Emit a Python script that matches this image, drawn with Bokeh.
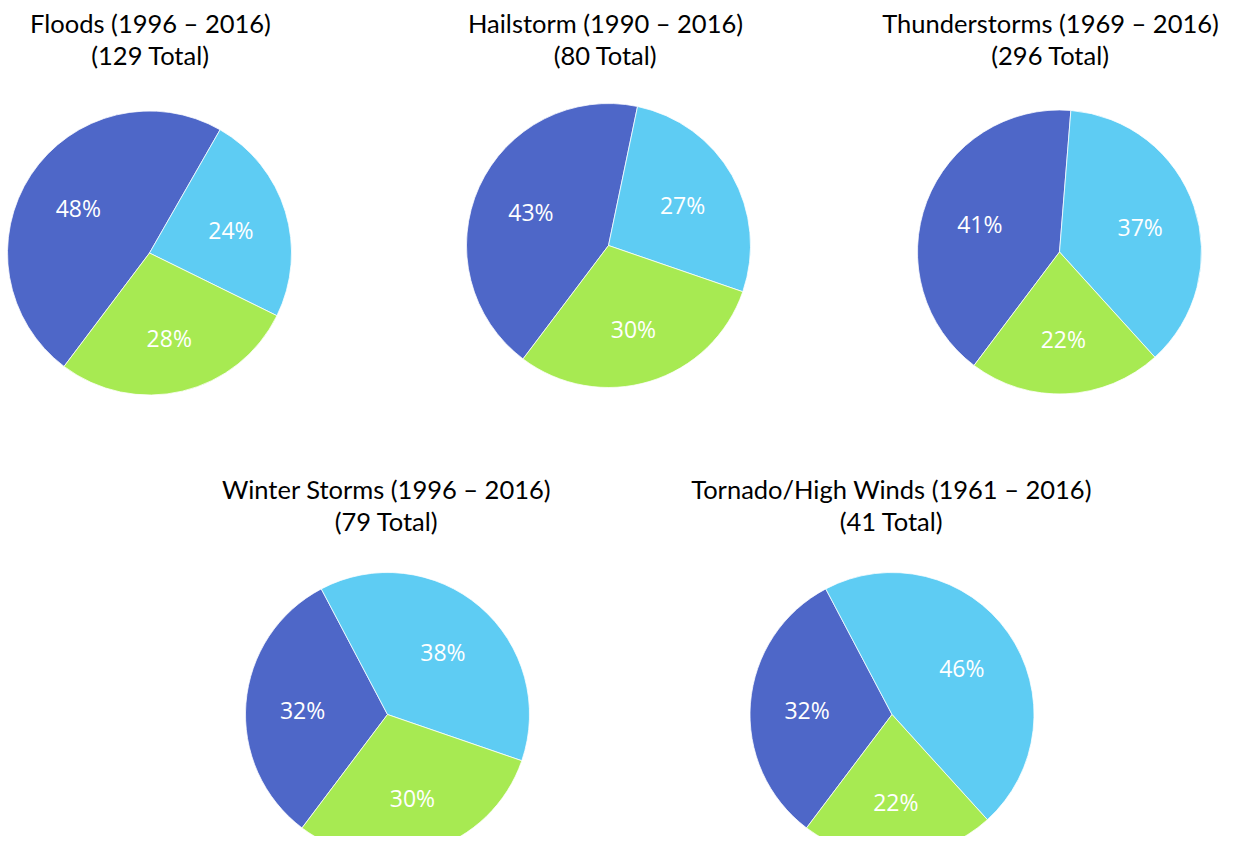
import math
from bokeh.plotting import figure
from bokeh.models import Range1d, ColumnDataSource
from bokeh.embed import file_html
from bokeh.resources import INLINE
from bokeh.core.properties import value

# ---- data ----
event_names = ["Floods", "Hailstorm", "Thunderstorms", "Winter Storms", "Tornado/High Winds"]
year_ranges = ["1996 – 2016", "1990 – 2016", "1969 – 2016", "1996 – 2016", "1961 – 2016"]
totals = [129, 80, 296, 79, 41]
share_dark_blue = [48, 43, 41, 32, 32]
share_light_blue = [24, 27, 37, 38, 46]
share_green = [28, 30, 22, 30, 22]

# ---- style / layout ----
colors = ["#4E67C8", "#5ECCF3", "#A7EA52"]
FW, FH = 1226, 836          # figure size
R = 142
START_CW = 217.0  # first slice starts here, degrees clockwise from 12 o'clock
centers_x = [149, 608, 1059, 387, 891.5]
centers_y_img = [252.5, 245, 251.5, 714, 714]
title_x = [150, 605, 1050, 386, 891]
title_base1_img = [22.5, 22.5, 22.5, 488.5, 488.5]
LINE_GAP = 31.5
LABEL_R = 0.6
LABEL_DY = 2
TITLE_FONT = "Lato"
LABEL_FONT = "Open Sans"


def Y(img_y):
    return FH - img_y


p = figure(width=FW, height=FH,
           x_range=Range1d(0, FW), y_range=Range1d(0, FH),
           x_axis_type=None, y_axis_type=None, toolbar_location=None,
           output_backend="svg", min_border=0)
p.outline_line_color = None
p.grid.visible = False
p.background_fill_color = "white"
p.border_fill_color = "white"

wx, wy, ws, we, wc = [], [], [], [], []
lx, ly, lt = [], [], []
for i in range(len(event_names)):
    shares = [share_dark_blue[i], share_light_blue[i], share_green[i]]
    tot = sum(shares)
    a = START_CW
    cx, cy = centers_x[i], Y(centers_y_img[i])
    for k, s in enumerate(shares):
        span = 360.0 * s / tot
        t1, t2 = a, a + span
        wx.append(cx)
        wy.append(cy)
        ws.append(math.radians(90 - t2))
        we.append(math.radians(90 - t1))
        wc.append(colors[k])
        mid = math.radians(a + span / 2)
        lx.append(cx + LABEL_R * R * math.sin(mid))
        ly.append(cy + LABEL_R * R * math.cos(mid) - LABEL_DY)
        lt.append(f"{s}%")
        a = t2

wsrc = ColumnDataSource(dict(x=wx, y=wy, start=ws, end=we, color=wc))
p.wedge(x="x", y="y", radius=R, start_angle="start", end_angle="end",
        fill_color="color", line_color="white", line_width=0.75, source=wsrc)

lsrc = ColumnDataSource(dict(x=lx, y=ly, text=lt))
p.text(x="x", y="y", text="text", source=lsrc, text_color="white",
       text_font=value(LABEL_FONT), text_font_size="23px",
       text_align="center", text_baseline="middle")

tx, ty, tt = [], [], []
for i in range(len(event_names)):
    tx += [title_x[i], title_x[i]]
    ty += [Y(title_base1_img[i]), Y(title_base1_img[i] + LINE_GAP)]
    tt += [f"{event_names[i]} ({year_ranges[i]})", f"({totals[i]} Total)"]
tsrc = ColumnDataSource(dict(x=tx, y=ty, text=tt))
p.text(x="x", y="y", text="text", source=tsrc, text_color="black",
       text_font=value(TITLE_FONT), text_font_size="25.5px",
       text_align="center", text_baseline="alphabetic")

open("out.html", "w").write(file_html(p, INLINE))
